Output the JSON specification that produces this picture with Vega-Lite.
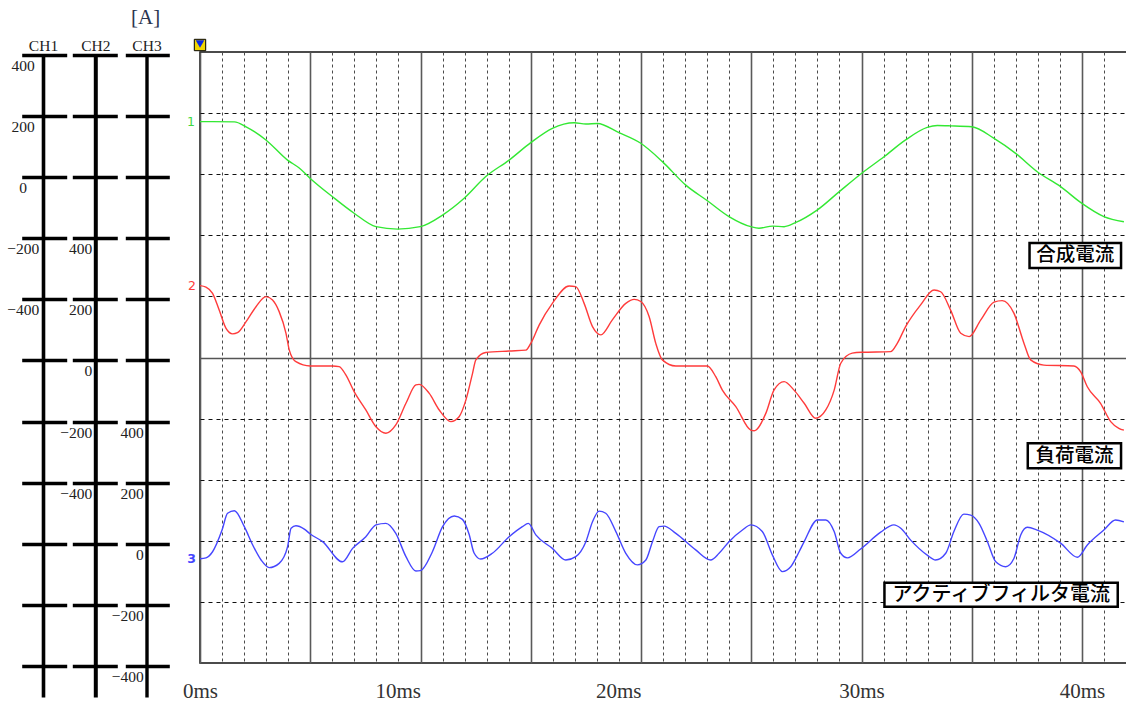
{
  "$schema": "https://vega.github.io/schema/vega-lite/v6.json",
  "width": 927,
  "height": 611,
  "autosize": "none",
  "padding": {"left": 200, "top": 52, "right": 0, "bottom": 41},
  "background": "white",
  "title": {"text": "[A]", "anchor": "start", "frame": "group", "dx": -69, "offset": 9, "font": "Liberation Serif", "fontSize": 21, "fontWeight": "normal", "color": "#2a3550"},
  "datasets": {
    "ch1": [{"t":0,"v":182},{"t":0.56,"v":182},{"t":1.56,"v":181},{"t":2.09,"v":165},{"t":2.99,"v":122},{"t":3.97,"v":56},{"t":4.5,"v":30},{"t":5.0,"v":-4},{"t":6.01,"v":-64},{"t":6.99,"v":-118},{"t":7.98,"v":-162},{"t":8.96,"v":-170},{"t":9.99,"v":-162},{"t":11.0,"v":-124},{"t":11.98,"v":-69},{"t":12.96,"v":2},{"t":14.02,"v":56},{"t":15.0,"v":113},{"t":15.98,"v":160},{"t":16.97,"v":178},{"t":17.5,"v":174},{"t":18.02,"v":176},{"t":19.0,"v":146},{"t":19.99,"v":111},{"t":20.97,"v":51},{"t":22.03,"v":-26},{"t":23.01,"v":-77},{"t":23.99,"v":-129},{"t":24.98,"v":-162},{"t":25.35,"v":-167},{"t":25.96,"v":-160},{"t":26.49,"v":-162},{"t":27.0,"v":-149},{"t":28.0,"v":-107},{"t":28.98,"v":-48},{"t":30.01,"v":13},{"t":31.02,"v":67},{"t":32.0,"v":122},{"t":32.98,"v":163},{"t":33.44,"v":169},{"t":34.04,"v":168},{"t":35.0,"v":165},{"t":36.01,"v":127},{"t":36.99,"v":78},{"t":37.97,"v":18},{"t":39.03,"v":-31},{"t":39.98,"v":-85},{"t":40.99,"v":-129},{"t":41.9,"v":-146}],
    "ch2": [{"t":0,"v":245},{"t":0.27,"v":240},{"t":0.57,"v":220},{"t":0.87,"v":165},{"t":1.18,"v":105},{"t":1.48,"v":87},{"t":1.7,"v":91},{"t":2.09,"v":127},{"t":2.54,"v":176},{"t":2.99,"v":209},{"t":3.29,"v":198},{"t":3.59,"v":160},{"t":3.9,"v":89},{"t":4.05,"v":34},{"t":4.35,"v":-4},{"t":5.0,"v":-18},{"t":6.01,"v":-18},{"t":6.31,"v":-20},{"t":6.62,"v":-48},{"t":6.99,"v":-102},{"t":7.52,"v":-162},{"t":7.98,"v":-217},{"t":8.43,"v":-238},{"t":8.88,"v":-211},{"t":9.34,"v":-140},{"t":9.79,"v":-80},{"t":9.94,"v":-78},{"t":10.39,"v":-107},{"t":10.85,"v":-162},{"t":11.38,"v":-200},{"t":11.75,"v":-184},{"t":12.06,"v":-129},{"t":12.36,"v":-42},{"t":12.51,"v":2},{"t":12.96,"v":26},{"t":14.02,"v":31},{"t":14.78,"v":34},{"t":15.0,"v":56},{"t":15.38,"v":116},{"t":15.98,"v":187},{"t":16.74,"v":244},{"t":17.04,"v":242},{"t":17.42,"v":187},{"t":17.8,"v":111},{"t":18.18,"v":84},{"t":18.7,"v":133},{"t":19.31,"v":187},{"t":19.69,"v":200},{"t":19.99,"v":193},{"t":20.37,"v":143},{"t":20.67,"v":56},{"t":20.97,"v":2},{"t":21.58,"v":-18},{"t":23.01,"v":-18},{"t":23.39,"v":-53},{"t":23.69,"v":-97},{"t":24.3,"v":-151},{"t":24.98,"v":-228},{"t":25.13,"v":-230},{"t":25.66,"v":-173},{"t":26.03,"v":-97},{"t":26.49,"v":-69},{"t":26.94,"v":-97},{"t":27.4,"v":-140},{"t":27.92,"v":-189},{"t":28.38,"v":-162},{"t":28.76,"v":-97},{"t":29.06,"v":-9},{"t":29.58,"v":24},{"t":30.01,"v":27},{"t":31.32,"v":29},{"t":31.62,"v":56},{"t":32.0,"v":111},{"t":32.68,"v":182},{"t":33.29,"v":231},{"t":33.59,"v":225},{"t":34.04,"v":165},{"t":34.5,"v":89},{"t":34.88,"v":78},{"t":35.41,"v":133},{"t":36.01,"v":191},{"t":36.38,"v":196},{"t":36.91,"v":155},{"t":37.37,"v":56},{"t":37.67,"v":2},{"t":38.27,"v":-15},{"t":39.63,"v":-18},{"t":39.94,"v":-37},{"t":40.24,"v":-86},{"t":40.84,"v":-140},{"t":41.3,"v":-200},{"t":41.67,"v":-222},{"t":41.9,"v":-228}],
    "ch3": [{"t":0,"v":-49},{"t":0.27,"v":-46},{"t":0.57,"v":-26},{"t":1.0,"v":45},{"t":1.25,"v":100},{"t":1.56,"v":108},{"t":2.01,"v":56},{"t":2.39,"v":-4},{"t":2.77,"v":-53},{"t":3.14,"v":-78},{"t":3.59,"v":-64},{"t":3.97,"v":-10},{"t":4.13,"v":51},{"t":4.35,"v":59},{"t":4.73,"v":48},{"t":5.0,"v":32},{"t":5.56,"v":7},{"t":6.46,"v":-59},{"t":6.92,"v":-15},{"t":7.52,"v":23},{"t":7.98,"v":62},{"t":8.43,"v":67},{"t":8.88,"v":34},{"t":9.34,"v":-42},{"t":9.79,"v":-89},{"t":9.99,"v":-88},{"t":10.54,"v":-26},{"t":11.0,"v":56},{"t":11.53,"v":91},{"t":11.9,"v":80},{"t":12.2,"v":32},{"t":12.43,"v":-30},{"t":12.73,"v":-50},{"t":13.26,"v":-31},{"t":14.02,"v":23},{"t":14.62,"v":56},{"t":14.89,"v":67},{"t":15.23,"v":29},{"t":15.98,"v":-15},{"t":16.59,"v":-53},{"t":17.04,"v":-42},{"t":17.5,"v":7},{"t":17.8,"v":72},{"t":18.1,"v":107},{"t":18.4,"v":100},{"t":18.86,"v":40},{"t":19.31,"v":-31},{"t":19.84,"v":-69},{"t":20.22,"v":-53},{"t":20.52,"v":7},{"t":20.82,"v":56},{"t":21.05,"v":58},{"t":21.58,"v":34},{"t":22.48,"v":-20},{"t":23.16,"v":-53},{"t":23.54,"v":-31},{"t":23.99,"v":7},{"t":24.6,"v":45},{"t":24.98,"v":62},{"t":25.5,"v":40},{"t":25.96,"v":-37},{"t":26.41,"v":-91},{"t":26.79,"v":-75},{"t":27.17,"v":-26},{"t":27.4,"v":7},{"t":28.0,"v":78},{"t":28.38,"v":78},{"t":28.76,"v":40},{"t":29.06,"v":-31},{"t":29.36,"v":-46},{"t":29.96,"v":-17},{"t":30.87,"v":38},{"t":31.47,"v":62},{"t":31.78,"v":51},{"t":32.23,"v":12},{"t":32.98,"v":-37},{"t":33.36,"v":-53},{"t":33.82,"v":-31},{"t":34.19,"v":40},{"t":34.64,"v":97},{"t":34.95,"v":94},{"t":35.33,"v":67},{"t":35.71,"v":7},{"t":36.09,"v":-59},{"t":36.54,"v":-75},{"t":36.91,"v":-48},{"t":37.22,"v":29},{"t":37.52,"v":54},{"t":37.97,"v":45},{"t":39.03,"v":2},{"t":39.79,"v":-44},{"t":40.24,"v":-4},{"t":40.99,"v":45},{"t":41.52,"v":78},{"t":41.9,"v":72}],
    "notes": [{"label": "合成電流"}, {"label": "負荷電流"}, {"label": "アクティブフィルタ電流"}, {"label": "trigger"}]
  },
  "layer": [
    {
      "data": {"name": "notes"},
      "layer": [
        {
          "transform": [{"filter": "datum.label === '合成電流'"}],
          "mark": {"type": "rect", "fill": "white", "stroke": "#000", "strokeWidth": 2.5},
          "encoding": {
            "x": {
              "datum": 37.62, "type": "quantitative",
              "scale": {"domain": [0, 42.04], "nice": false, "zero": false},
              "axis": {"orient": "bottom", "values": [0,1,2,3,4,5,6,7,8,9,10,11,12,13,14,15,16,17,18,19,20,21,22,23,24,25,26,27,28,29,30,31,32,33,34,35,36,37,38,39,40,41], "grid": true, "gridDash": {"condition": {"test": "datum.value % 5 === 0", "value": []}, "value": [3, 3]}, "gridColor": {"condition": {"test": "datum.value % 5 === 0", "value": "#5a5a5a"}, "value": "#4a4a4a"}, "gridWidth": {"condition": {"test": "datum.value % 5 === 0", "value": 1.6}, "value": 1}, "ticks": false, "domain": false, "labelExpr": "datum.value % 10 === 0 ? datum.value + 'ms' : ''", "labelAlign": {"condition": {"test": "datum.value === 10 || datum.value === 20", "value": "right"}, "value": "center"}, "labelFont": "Liberation Serif", "labelFontSize": 21, "labelColor": "#333333", "labelPadding": 17, "labelFlush": false, "labelOverlap": false, "title": null}
            },
            "x2": {"datum": 41.77},
            "y": {
              "datum": 374.8, "type": "quantitative",
              "scale": {"domain": [-1000, 1000], "nice": false, "zero": false},
              "axis": {
                "orient": "left", "values": [-800,-600,-400,-200,0,200,400,600,800],
                "grid": true,
                "gridColor": {"condition": {"test": "datum.value === 0", "value": "#555"}, "value": "#111"},
                "gridDash": {"condition": {"test": "datum.value === 0", "value": []}, "value": [4, 4]},
                "gridWidth": {"condition": {"test": "datum.value === 0", "value": 1.5}, "value": 1},
                "labels": false, "ticks": false, "domain": false, "title": null
              }
            },
            "y2": {"datum": 293}
          }
        },
        {
          "transform": [{"filter": "datum.label === '負荷電流'"}],
          "mark": {"type": "rect", "fill": "white", "stroke": "#000", "strokeWidth": 2.5},
          "encoding": {
            "x": {"datum": 37.54, "type": "quantitative", "axis": {"orient": "bottom", "values": [0,1,2,3,4,5,6,7,8,9,10,11,12,13,14,15,16,17,18,19,20,21,22,23,24,25,26,27,28,29,30,31,32,33,34,35,36,37,38,39,40,41], "grid": true, "gridDash": {"condition": {"test": "datum.value % 5 === 0", "value": []}, "value": [3, 3]}, "gridColor": {"condition": {"test": "datum.value % 5 === 0", "value": "#5a5a5a"}, "value": "#4a4a4a"}, "gridWidth": {"condition": {"test": "datum.value % 5 === 0", "value": 1.6}, "value": 1}, "ticks": false, "domain": false, "labelExpr": "datum.value % 10 === 0 ? datum.value + 'ms' : ''", "labelAlign": {"condition": {"test": "datum.value === 10 || datum.value === 20", "value": "right"}, "value": "center"}, "labelFont": "Liberation Serif", "labelFontSize": 21, "labelColor": "#333333", "labelPadding": 17, "labelFlush": false, "labelOverlap": false, "title": null}},
            "x2": {"datum": 41.77},
            "y": {"datum": -280.9, "type": "quantitative"},
            "y2": {"datum": -362.7}
          }
        },
        {
          "transform": [{"filter": "datum.label === 'アクティブフィルタ電流'"}],
          "mark": {"type": "rect", "fill": "white", "stroke": "#000", "strokeWidth": 2.5},
          "encoding": {
            "x": {"datum": 31.04, "type": "quantitative", "axis": {"orient": "bottom", "values": [0,1,2,3,4,5,6,7,8,9,10,11,12,13,14,15,16,17,18,19,20,21,22,23,24,25,26,27,28,29,30,31,32,33,34,35,36,37,38,39,40,41], "grid": true, "gridDash": {"condition": {"test": "datum.value % 5 === 0", "value": []}, "value": [3, 3]}, "gridColor": {"condition": {"test": "datum.value % 5 === 0", "value": "#5a5a5a"}, "value": "#4a4a4a"}, "gridWidth": {"condition": {"test": "datum.value % 5 === 0", "value": 1.6}, "value": 1}, "ticks": false, "domain": false, "labelExpr": "datum.value % 10 === 0 ? datum.value + 'ms' : ''", "labelAlign": {"condition": {"test": "datum.value === 10 || datum.value === 20", "value": "right"}, "value": "center"}, "labelFont": "Liberation Serif", "labelFontSize": 21, "labelColor": "#333333", "labelPadding": 17, "labelFlush": false, "labelOverlap": false, "title": null}},
            "x2": {"datum": 41.62},
            "y": {"datum": -737.2, "type": "quantitative"},
            "y2": {"datum": -815.7}
          }
        },
        {
          "transform": [{"filter": "datum.label === '合成電流'"}],
          "mark": {"type": "text", "font": "Noto Sans CJK JP", "fontSize": 19.5, "fontWeight": 500, "color": "#000", "align": "center", "baseline": "middle"},
          "encoding": {
            "x": {"datum": 39.69, "type": "quantitative", "axis": {"orient": "bottom", "values": [0,1,2,3,4,5,6,7,8,9,10,11,12,13,14,15,16,17,18,19,20,21,22,23,24,25,26,27,28,29,30,31,32,33,34,35,36,37,38,39,40,41], "grid": true, "gridDash": {"condition": {"test": "datum.value % 5 === 0", "value": []}, "value": [3, 3]}, "gridColor": {"condition": {"test": "datum.value % 5 === 0", "value": "#5a5a5a"}, "value": "#4a4a4a"}, "gridWidth": {"condition": {"test": "datum.value % 5 === 0", "value": 1.6}, "value": 1}, "ticks": false, "domain": false, "labelExpr": "datum.value % 10 === 0 ? datum.value + 'ms' : ''", "labelAlign": {"condition": {"test": "datum.value === 10 || datum.value === 20", "value": "right"}, "value": "center"}, "labelFont": "Liberation Serif", "labelFontSize": 21, "labelColor": "#333333", "labelPadding": 17, "labelFlush": false, "labelOverlap": false, "title": null}},
            "y": {"datum": 333.9, "type": "quantitative"},
            "text": {"field": "label"}
          }
        },
        {
          "transform": [{"filter": "datum.label === '負荷電流'"}],
          "mark": {"type": "text", "font": "Noto Sans CJK JP", "fontSize": 19.5, "fontWeight": 500, "color": "#000", "align": "center", "baseline": "middle"},
          "encoding": {
            "x": {"datum": 39.66, "type": "quantitative", "axis": {"orient": "bottom", "values": [0,1,2,3,4,5,6,7,8,9,10,11,12,13,14,15,16,17,18,19,20,21,22,23,24,25,26,27,28,29,30,31,32,33,34,35,36,37,38,39,40,41], "grid": true, "gridDash": {"condition": {"test": "datum.value % 5 === 0", "value": []}, "value": [3, 3]}, "gridColor": {"condition": {"test": "datum.value % 5 === 0", "value": "#5a5a5a"}, "value": "#4a4a4a"}, "gridWidth": {"condition": {"test": "datum.value % 5 === 0", "value": 1.6}, "value": 1}, "ticks": false, "domain": false, "labelExpr": "datum.value % 10 === 0 ? datum.value + 'ms' : ''", "labelAlign": {"condition": {"test": "datum.value === 10 || datum.value === 20", "value": "right"}, "value": "center"}, "labelFont": "Liberation Serif", "labelFontSize": 21, "labelColor": "#333333", "labelPadding": 17, "labelFlush": false, "labelOverlap": false, "title": null}},
            "y": {"datum": -321.8, "type": "quantitative"},
            "text": {"field": "label"}
          }
        },
        {
          "transform": [{"filter": "datum.label === 'アクティブフィルタ電流'"}],
          "mark": {"type": "text", "font": "Noto Sans CJK JP", "fontSize": 20, "fontWeight": 500, "color": "#000", "align": "center", "baseline": "middle"},
          "encoding": {
            "x": {"datum": 36.34, "type": "quantitative", "axis": {"orient": "bottom", "values": [0,1,2,3,4,5,6,7,8,9,10,11,12,13,14,15,16,17,18,19,20,21,22,23,24,25,26,27,28,29,30,31,32,33,34,35,36,37,38,39,40,41], "grid": true, "gridDash": {"condition": {"test": "datum.value % 5 === 0", "value": []}, "value": [3, 3]}, "gridColor": {"condition": {"test": "datum.value % 5 === 0", "value": "#5a5a5a"}, "value": "#4a4a4a"}, "gridWidth": {"condition": {"test": "datum.value % 5 === 0", "value": 1.6}, "value": 1}, "ticks": false, "domain": false, "labelExpr": "datum.value % 10 === 0 ? datum.value + 'ms' : ''", "labelAlign": {"condition": {"test": "datum.value === 10 || datum.value === 20", "value": "right"}, "value": "center"}, "labelFont": "Liberation Serif", "labelFontSize": 21, "labelColor": "#333333", "labelPadding": 17, "labelFlush": false, "labelOverlap": false, "title": null}},
            "y": {"datum": -776.4, "type": "quantitative"},
            "text": {"field": "label"}
          }
        },
        {
          "transform": [{"filter": "datum.label === 'trigger'"}],
          "mark": {"type": "point", "shape": "square", "filled": true, "fill": "#f2d600", "stroke": "#000", "strokeWidth": 1, "size": 130, "yOffset": -7, "opacity": 1},
          "encoding": {
            "x": {"datum": 0, "type": "quantitative", "axis": {"orient": "bottom", "values": [0,1,2,3,4,5,6,7,8,9,10,11,12,13,14,15,16,17,18,19,20,21,22,23,24,25,26,27,28,29,30,31,32,33,34,35,36,37,38,39,40,41], "grid": true, "gridDash": {"condition": {"test": "datum.value % 5 === 0", "value": []}, "value": [3, 3]}, "gridColor": {"condition": {"test": "datum.value % 5 === 0", "value": "#5a5a5a"}, "value": "#4a4a4a"}, "gridWidth": {"condition": {"test": "datum.value % 5 === 0", "value": 1.6}, "value": 1}, "ticks": false, "domain": false, "labelExpr": "datum.value % 10 === 0 ? datum.value + 'ms' : ''", "labelAlign": {"condition": {"test": "datum.value === 10 || datum.value === 20", "value": "right"}, "value": "center"}, "labelFont": "Liberation Serif", "labelFontSize": 21, "labelColor": "#333333", "labelPadding": 17, "labelFlush": false, "labelOverlap": false, "title": null}},
            "y": {"datum": 1000, "type": "quantitative"}
          }
        },
        {
          "transform": [{"filter": "datum.label === 'trigger'"}],
          "mark": {"type": "point", "shape": "triangle-down", "filled": true, "fill": "#0a28e6", "size": 75, "yOffset": -8, "opacity": 1},
          "encoding": {
            "x": {"datum": 0, "type": "quantitative", "axis": {"orient": "bottom", "values": [0,1,2,3,4,5,6,7,8,9,10,11,12,13,14,15,16,17,18,19,20,21,22,23,24,25,26,27,28,29,30,31,32,33,34,35,36,37,38,39,40,41], "grid": true, "gridDash": {"condition": {"test": "datum.value % 5 === 0", "value": []}, "value": [3, 3]}, "gridColor": {"condition": {"test": "datum.value % 5 === 0", "value": "#5a5a5a"}, "value": "#4a4a4a"}, "gridWidth": {"condition": {"test": "datum.value % 5 === 0", "value": 1.6}, "value": 1}, "ticks": false, "domain": false, "labelExpr": "datum.value % 10 === 0 ? datum.value + 'ms' : ''", "labelAlign": {"condition": {"test": "datum.value === 10 || datum.value === 20", "value": "right"}, "value": "center"}, "labelFont": "Liberation Serif", "labelFontSize": 21, "labelColor": "#333333", "labelPadding": 17, "labelFlush": false, "labelOverlap": false, "title": null}},
            "y": {"datum": 1000, "type": "quantitative"}
          }
        }
      ]
    },
    {
      "data": {"name": "ch1"},
      "layer": [
        {
          "mark": {"type": "line", "color": "#33e833", "strokeWidth": 1.4, "interpolate": "monotone"},
          "encoding": {
            "x": {"field": "t", "type": "quantitative", "axis": {"orient": "bottom", "values": [0,1,2,3,4,5,6,7,8,9,10,11,12,13,14,15,16,17,18,19,20,21,22,23,24,25,26,27,28,29,30,31,32,33,34,35,36,37,38,39,40,41], "grid": true, "gridDash": {"condition": {"test": "datum.value % 5 === 0", "value": []}, "value": [3, 3]}, "gridColor": {"condition": {"test": "datum.value % 5 === 0", "value": "#5a5a5a"}, "value": "#4a4a4a"}, "gridWidth": {"condition": {"test": "datum.value % 5 === 0", "value": 1.6}, "value": 1}, "ticks": false, "domain": false, "labelExpr": "datum.value % 10 === 0 ? datum.value + 'ms' : ''", "labelAlign": {"condition": {"test": "datum.value === 10 || datum.value === 20", "value": "right"}, "value": "center"}, "labelFont": "Liberation Serif", "labelFontSize": 21, "labelColor": "#333333", "labelPadding": 17, "labelFlush": false, "labelOverlap": false, "title": null}},
            "y": {
              "field": "v", "type": "quantitative",
              "scale": {"domain": [-1701.5, 400], "range": [645, 3], "nice": false, "zero": false},
              "axis": {"orient": "left", "offset": 133.3, "domain": false, "ticks": true, "tickSize": 45, "tickWidth": 3.5, "tickColor": "#000", "values": [400,200,0,-200,-400,-600,-800,-1000,-1200,-1400,-1600], "labelExpr": "abs(datum.value) <= 400 ? datum.label : ''", "labelAlign": "center", "labelBaseline": "alphabetic", "labelOffset": 15.5, "labelPadding": -1, "labelFont": "Liberation Serif", "labelFontSize": 15.5, "labelColor": "#222", "labelOverlap": false, "labelFlush": false, "grid": false, "title": null}
            }
          }
        },
        {
          "transform": [{"filter": "datum.t === 0"}],
          "mark": {"type": "text", "color": "#40d840", "align": "right", "baseline": "middle", "dx": -5, "font": "DejaVu Sans", "fontSize": 12.5},
          "encoding": {
            "x": {"field": "t", "type": "quantitative", "axis": {"orient": "bottom", "values": [0,1,2,3,4,5,6,7,8,9,10,11,12,13,14,15,16,17,18,19,20,21,22,23,24,25,26,27,28,29,30,31,32,33,34,35,36,37,38,39,40,41], "grid": true, "gridDash": {"condition": {"test": "datum.value % 5 === 0", "value": []}, "value": [3, 3]}, "gridColor": {"condition": {"test": "datum.value % 5 === 0", "value": "#5a5a5a"}, "value": "#4a4a4a"}, "gridWidth": {"condition": {"test": "datum.value % 5 === 0", "value": 1.6}, "value": 1}, "ticks": false, "domain": false, "labelExpr": "datum.value % 10 === 0 ? datum.value + 'ms' : ''", "labelAlign": {"condition": {"test": "datum.value === 10 || datum.value === 20", "value": "right"}, "value": "center"}, "labelFont": "Liberation Serif", "labelFontSize": 21, "labelColor": "#333333", "labelPadding": 17, "labelFlush": false, "labelOverlap": false, "title": null}},
            "y": {"field": "v", "type": "quantitative", "axis": {"orient": "left", "offset": 157, "domain": true, "domainColor": "#000", "domainWidth": 3.6, "ticks": false, "labels": false, "grid": false, "title": "CH1", "titleAngle": 0, "titleX": 0, "titleY": -1.5, "titleAlign": "center", "titleBaseline": "alphabetic", "titleFont": "Liberation Serif", "titleFontSize": 15.5, "titleFontWeight": "normal", "titleColor": "#222"}},
            "text": {"value": "1"}
          }
        }
      ],
      "resolve": {"axis": {"y": "independent"}}
    },
    {
      "data": {"name": "ch2"},
      "layer": [
        {
          "mark": {"type": "line", "color": "#ff3b3b", "strokeWidth": 1.4, "interpolate": "monotone"},
          "encoding": {
            "x": {"field": "t", "type": "quantitative", "axis": {"orient": "bottom", "values": [0,1,2,3,4,5,6,7,8,9,10,11,12,13,14,15,16,17,18,19,20,21,22,23,24,25,26,27,28,29,30,31,32,33,34,35,36,37,38,39,40,41], "grid": true, "gridDash": {"condition": {"test": "datum.value % 5 === 0", "value": []}, "value": [3, 3]}, "gridColor": {"condition": {"test": "datum.value % 5 === 0", "value": "#5a5a5a"}, "value": "#4a4a4a"}, "gridWidth": {"condition": {"test": "datum.value % 5 === 0", "value": 1.6}, "value": 1}, "ticks": false, "domain": false, "labelExpr": "datum.value % 10 === 0 ? datum.value + 'ms' : ''", "labelAlign": {"condition": {"test": "datum.value === 10 || datum.value === 20", "value": "right"}, "value": "center"}, "labelFont": "Liberation Serif", "labelFontSize": 21, "labelColor": "#333333", "labelPadding": 17, "labelFlush": false, "labelOverlap": false, "title": null}},
            "y": {
              "field": "v", "type": "quantitative",
              "scale": {"domain": [-1101.5, 1000], "range": [645, 3], "nice": false, "zero": false},
              "axis": {"orient": "left", "offset": 82.7, "domain": false, "ticks": true, "tickSize": 45, "tickWidth": 3.5, "tickColor": "#000", "values": [1000,800,600,400,200,0,-200,-400,-600,-800,-1000], "labelExpr": "abs(datum.value) <= 400 ? datum.label : ''", "labelAlign": "right", "labelBaseline": "alphabetic", "labelOffset": 15.5, "labelPadding": -19.4, "labelFont": "Liberation Serif", "labelFontSize": 15.5, "labelColor": "#222", "labelOverlap": false, "labelFlush": false, "grid": false, "title": null}
            }
          }
        },
        {
          "transform": [{"filter": "datum.t === 0"}],
          "mark": {"type": "text", "color": "#ff3b3b", "align": "right", "baseline": "middle", "dx": -4, "font": "DejaVu Sans", "fontSize": 12.5},
          "encoding": {
            "x": {"field": "t", "type": "quantitative", "axis": {"orient": "bottom", "values": [0,1,2,3,4,5,6,7,8,9,10,11,12,13,14,15,16,17,18,19,20,21,22,23,24,25,26,27,28,29,30,31,32,33,34,35,36,37,38,39,40,41], "grid": true, "gridDash": {"condition": {"test": "datum.value % 5 === 0", "value": []}, "value": [3, 3]}, "gridColor": {"condition": {"test": "datum.value % 5 === 0", "value": "#5a5a5a"}, "value": "#4a4a4a"}, "gridWidth": {"condition": {"test": "datum.value % 5 === 0", "value": 1.6}, "value": 1}, "ticks": false, "domain": false, "labelExpr": "datum.value % 10 === 0 ? datum.value + 'ms' : ''", "labelAlign": {"condition": {"test": "datum.value === 10 || datum.value === 20", "value": "right"}, "value": "center"}, "labelFont": "Liberation Serif", "labelFontSize": 21, "labelColor": "#333333", "labelPadding": 17, "labelFlush": false, "labelOverlap": false, "title": null}},
            "y": {"field": "v", "type": "quantitative", "axis": {"orient": "left", "offset": 104.7, "domain": true, "domainColor": "#000", "domainWidth": 4, "ticks": false, "labels": false, "grid": false, "title": "CH2", "titleAngle": 0, "titleX": 0, "titleY": -1.5, "titleAlign": "center", "titleBaseline": "alphabetic", "titleFont": "Liberation Serif", "titleFontSize": 15.5, "titleFontWeight": "normal", "titleColor": "#222"}},
            "text": {"value": "2"}
          }
        }
      ],
      "resolve": {"axis": {"y": "independent"}}
    },
    {
      "data": {"name": "ch3"},
      "layer": [
        {
          "mark": {"type": "line", "color": "#4646ff", "strokeWidth": 1.4, "interpolate": "monotone"},
          "encoding": {
            "x": {"field": "t", "type": "quantitative", "axis": {"orient": "bottom", "values": [0,1,2,3,4,5,6,7,8,9,10,11,12,13,14,15,16,17,18,19,20,21,22,23,24,25,26,27,28,29,30,31,32,33,34,35,36,37,38,39,40,41], "grid": true, "gridDash": {"condition": {"test": "datum.value % 5 === 0", "value": []}, "value": [3, 3]}, "gridColor": {"condition": {"test": "datum.value % 5 === 0", "value": "#5a5a5a"}, "value": "#4a4a4a"}, "gridWidth": {"condition": {"test": "datum.value % 5 === 0", "value": 1.6}, "value": 1}, "ticks": false, "domain": false, "labelExpr": "datum.value % 10 === 0 ? datum.value + 'ms' : ''", "labelAlign": {"condition": {"test": "datum.value === 10 || datum.value === 20", "value": "right"}, "value": "center"}, "labelFont": "Liberation Serif", "labelFontSize": 21, "labelColor": "#333333", "labelPadding": 17, "labelFlush": false, "labelOverlap": false, "title": null}},
            "y": {
              "field": "v", "type": "quantitative",
              "scale": {"domain": [-501.5, 1600], "range": [645, 3], "nice": false, "zero": false},
              "axis": {"orient": "left", "offset": 30.7, "domain": false, "ticks": true, "tickSize": 44, "tickWidth": 3.5, "tickColor": "#000", "values": [1600,1400,1200,1000,800,600,400,200,0,-200,-400], "labelExpr": "abs(datum.value) <= 400 ? datum.label : ''", "labelAlign": "right", "labelBaseline": "alphabetic", "labelOffset": 15.5, "labelPadding": -18, "labelFont": "Liberation Serif", "labelFontSize": 15.5, "labelColor": "#222", "labelOverlap": false, "labelFlush": false, "grid": false, "title": null}
            }
          }
        },
        {
          "transform": [{"filter": "datum.t === 0"}],
          "mark": {"type": "text", "color": "#4646ff", "align": "right", "baseline": "middle", "dx": -4, "font": "DejaVu Sans", "fontSize": 12.5, "fontWeight": "bold"},
          "encoding": {
            "x": {"field": "t", "type": "quantitative", "axis": {"orient": "bottom", "values": [0,1,2,3,4,5,6,7,8,9,10,11,12,13,14,15,16,17,18,19,20,21,22,23,24,25,26,27,28,29,30,31,32,33,34,35,36,37,38,39,40,41], "grid": true, "gridDash": {"condition": {"test": "datum.value % 5 === 0", "value": []}, "value": [3, 3]}, "gridColor": {"condition": {"test": "datum.value % 5 === 0", "value": "#5a5a5a"}, "value": "#4a4a4a"}, "gridWidth": {"condition": {"test": "datum.value % 5 === 0", "value": 1.6}, "value": 1}, "ticks": false, "domain": false, "labelExpr": "datum.value % 10 === 0 ? datum.value + 'ms' : ''", "labelAlign": {"condition": {"test": "datum.value === 10 || datum.value === 20", "value": "right"}, "value": "center"}, "labelFont": "Liberation Serif", "labelFontSize": 21, "labelColor": "#333333", "labelPadding": 17, "labelFlush": false, "labelOverlap": false, "title": null}},
            "y": {"field": "v", "type": "quantitative", "axis": {"orient": "left", "offset": 53.5, "domain": true, "domainColor": "#000", "domainWidth": 3.4, "ticks": false, "labels": false, "grid": false, "title": "CH3", "titleAngle": 0, "titleX": 0, "titleY": -1.5, "titleAlign": "center", "titleBaseline": "alphabetic", "titleFont": "Liberation Serif", "titleFontSize": 15.5, "titleFontWeight": "normal", "titleColor": "#222"}},
            "text": {"value": "3"}
          }
        }
      ],
      "resolve": {"axis": {"y": "independent"}}
    }
  ],
  "resolve": {"scale": {"y": "independent"}, "axis": {"y": "independent"}},
  "config": {
    "view": {"stroke": "#111", "strokeWidth": 1.5}
  }
}
